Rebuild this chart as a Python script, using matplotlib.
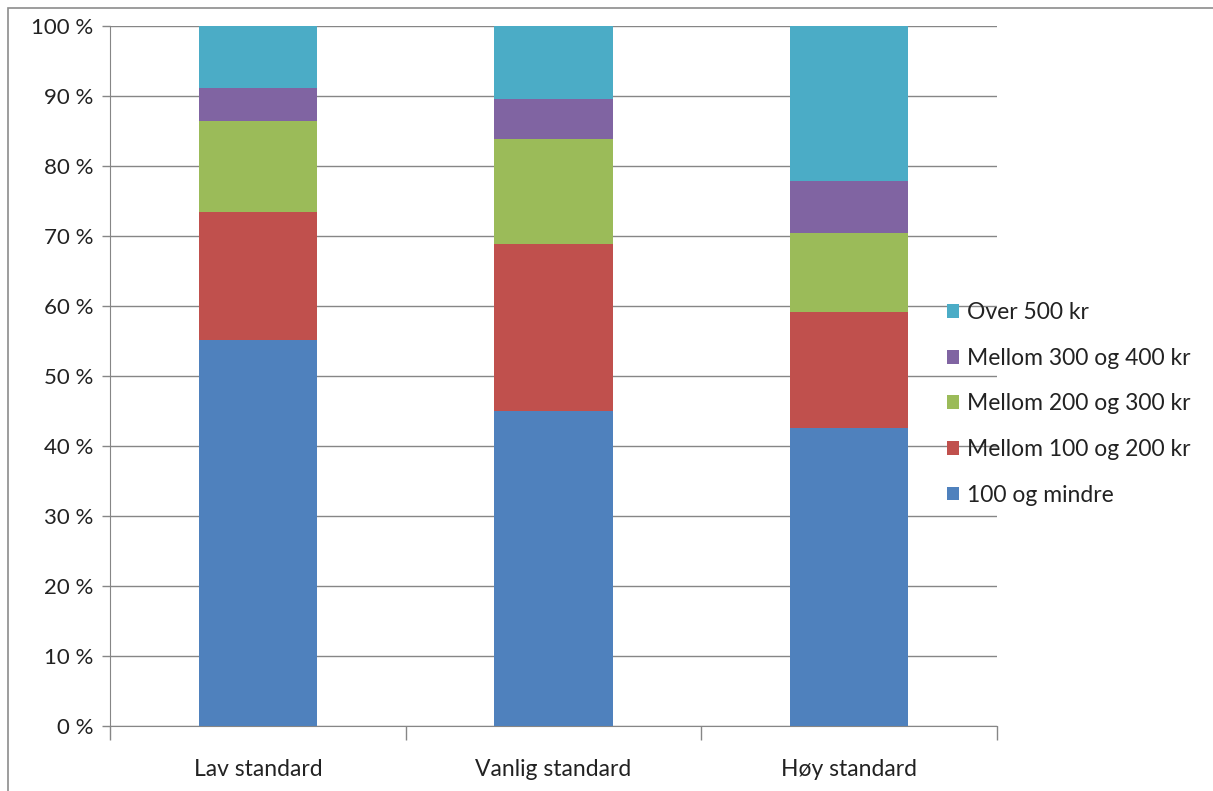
import matplotlib
matplotlib.use('Agg')
import matplotlib.pyplot as plt
from matplotlib.patches import Rectangle
import numpy as np

categories = ["Lav standard", "Vanlig standard", "Høy standard"]
series_names = ["100 og mindre", "Mellom 100 og 200 kr", "Mellom 200 og 300 kr",
                "Mellom 300 og 400 kr", "Over 500 kr"]
# shares in percent, per category (bottom to top)
s_100 = [55.2, 45.0, 42.6]
s_100_200 = [18.2, 23.9, 16.5]
s_200_300 = [13.1, 14.9, 11.3]
s_300_400 = [4.6, 5.7, 7.5]
s_over_500 = [8.9, 10.5, 22.1]
colors = ["#4F81BD", "#C0504D", "#9BBB59", "#8064A2", "#4BACC6"]

plt.rcParams['font.family'] = ['Lato', 'DejaVu Sans']

fig = plt.figure(figsize=(12.13, 7.91), dpi=100, facecolor='white')
ax = fig.add_axes([110 / 1213, 65 / 791, 887 / 1213, 700 / 791])

# outer chart frame
fig.patches.append(Rectangle((8 / 1213, -0.1), 1.2, (791 - 8) / 791 + 0.1,
                             transform=fig.transFigure, fill=False,
                             edgecolor='#8c8c8c', linewidth=1.2))

x = np.arange(len(categories))
bottom = np.zeros(len(categories))
series = [s_100, s_100_200, s_200_300, s_300_400, s_over_500]
handles = []
for vals, name, col in zip(series, series_names, colors):
    b = ax.bar(x, vals, width=0.4, bottom=bottom, color=col, label=name, zorder=3)
    handles.append(b)
    bottom += np.array(vals)

ax.set_xlim(-0.5, 2.5)
ax.set_ylim(0, 100)
ax.set_yticks(np.arange(0, 101, 10))
ax.set_yticklabels([f"{v} %" for v in range(0, 101, 10)], fontsize=16, color='#222222')
ax.yaxis.grid(True, color='#868686', linewidth=1.0, zorder=0)
ax.set_axisbelow(True)

ax.set_xticks(x)
ax.set_xticklabels(categories, fontsize=16.5, color='#222222')
ax.set_xticks([-0.5, 0.5, 1.5, 2.5], minor=True)
ax.tick_params(axis='x', which='major', length=0, pad=24)
ax.tick_params(axis='x', which='minor', length=10, color='#868686', width=1.0)
ax.tick_params(axis='y', length=6, color='#868686', width=1.0, pad=6)

for side in ['top', 'right']:
    ax.spines[side].set_visible(False)
ax.spines['left'].set_color('#868686')
ax.spines['bottom'].set_color('#868686')

leg = ax.legend(handles[::-1], series_names[::-1], loc='center left',
                bbox_to_anchor=(0.933, 0.46), frameon=False, fontsize=16.5,
                handlelength=0.55, handleheight=0.55, handletextpad=0.35,
                labelspacing=1.07, borderaxespad=0)
for t in leg.get_texts():
    t.set_color('#222222')

fig.savefig("out.png", dpi=100, facecolor='white')
